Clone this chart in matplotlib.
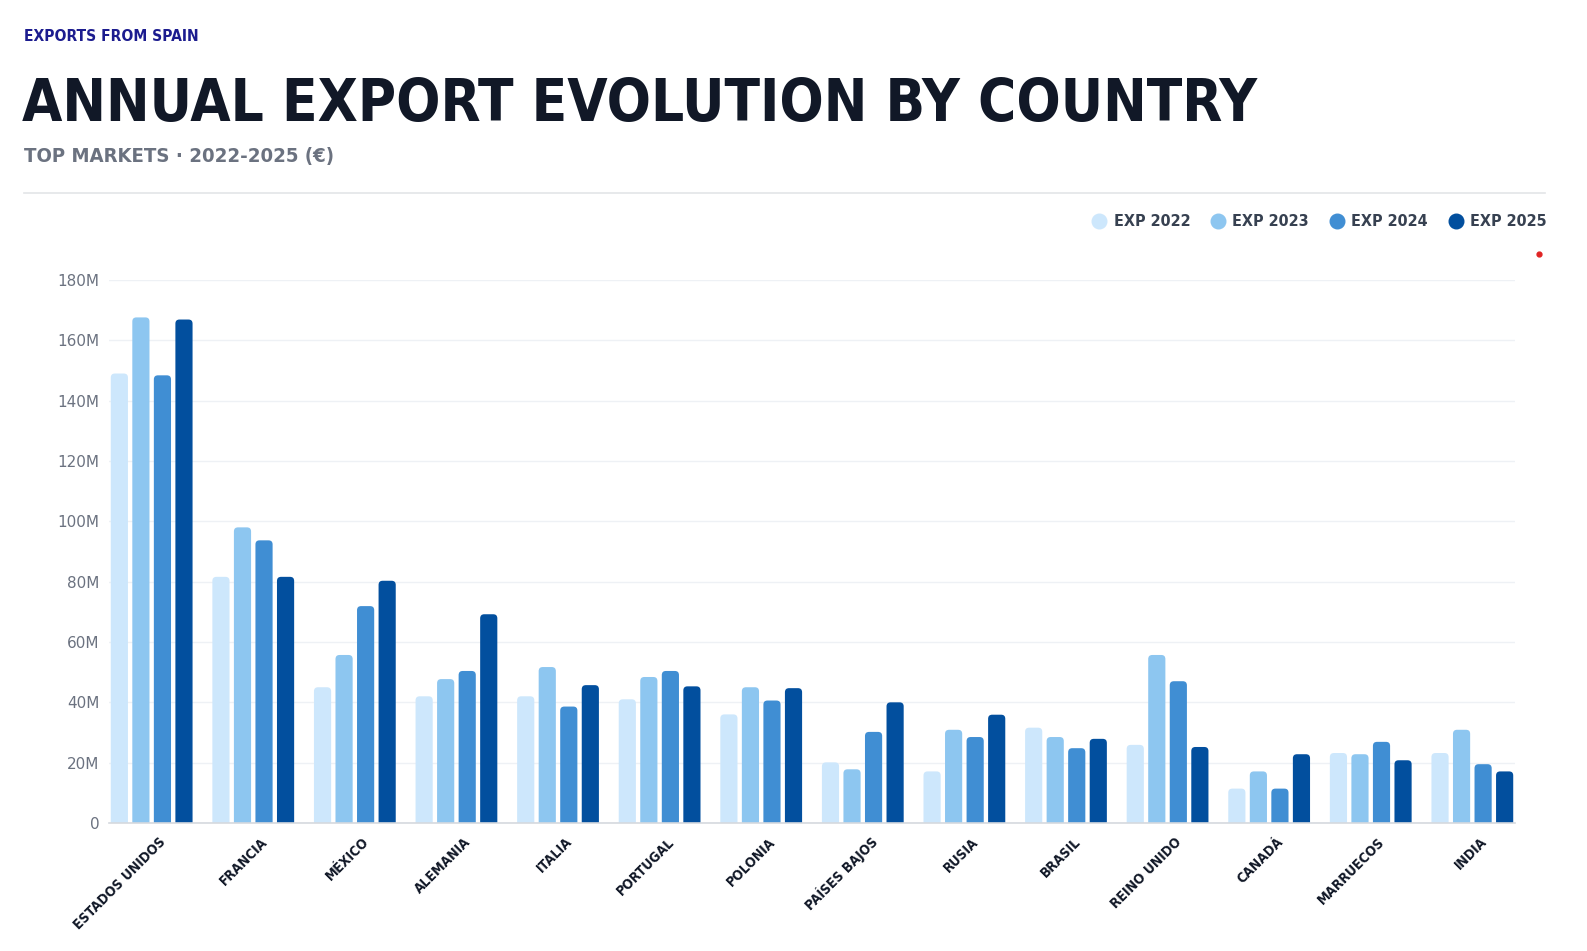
import matplotlib
matplotlib.use("Agg")
import matplotlib.pyplot as plt
import numpy as np
from matplotlib.patches import FancyBboxPatch
from matplotlib.lines import Line2D

countries = ["ESTADOS UNIDOS", "FRANCIA", "MÉXICO", "ALEMANIA", "ITALIA", "PORTUGAL",
             "POLONIA", "PAÍSES BAJOS", "RUSIA", "BRASIL", "REINO UNIDO", "CANADÁ",
             "MARRUECOS", "INDIA"]
series_names = ["EXP 2022", "EXP 2023", "EXP 2024", "EXP 2025"]

# values in millions of euros
exp_2022 = [149.0, 81.6, 45.0, 42.0, 42.0, 41.0, 36.0, 20.1, 17.1, 31.6, 25.9, 11.4, 23.2, 23.2]
exp_2023 = [167.6, 98.0, 55.7, 47.7, 51.7, 48.4, 45.0, 17.8, 30.9, 28.5, 55.7, 17.1, 22.8, 30.9]
exp_2024 = [148.4, 93.7, 71.9, 50.4, 38.6, 50.4, 40.6, 30.2, 28.5, 24.8, 47.0, 11.4, 26.9, 19.5]
exp_2025 = [166.9, 81.6, 80.3, 69.2, 45.7, 45.3, 44.7, 40.0, 35.9, 27.9, 25.2, 22.8, 20.8, 17.1]

y_ticks = [0, 20, 40, 60, 80, 100, 120, 140, 160, 180]
y_tick_labels = ["0", "20M", "40M", "60M", "80M", "100M", "120M", "140M", "160M", "180M"]

colors = ["#cde7fc", "#8dc6f0", "#408ed3", "#024f9e"]
FONT = "DejaVu Sans"
COND = "condensed"

W, H = 1587, 951
fig = plt.figure(figsize=(W / 100, H / 100), dpi=100)
fig.patch.set_facecolor("white")

ax = fig.add_axes([109 / W, 1 - 823 / H, (1515 - 109) / W, (823 - 280) / H])

x = np.arange(len(countries))
step = 0.212
bw = 0.169
all_series = [exp_2022, exp_2023, exp_2024, exp_2025]

ax.set_xlim(-0.42, len(countries) - 1 + 0.42)
ax.set_ylim(0, 180)

# aspect between y-units and x-units in pixels, for round corners
ax_w_px = (1515 - 109)
ax_h_px = (823 - 280)
x_per_px = (len(countries) - 1 + 0.84) / ax_w_px
y_per_px = 180 / ax_h_px
aspect = y_per_px / x_per_px
r = 0.04

for i, vals in enumerate(all_series):
    bars = ax.bar(x + (i - 1.5) * step, vals, width=bw, color=colors[i], zorder=3)
    for b in bars:
        bx, bwid, bh = b.get_x(), b.get_width(), b.get_height()
        b.set_visible(False)
        # extend below zero so the bottom corners get clipped away by the axes
        drop = 5.0
        ax.add_patch(FancyBboxPatch((bx, -drop), bwid, bh + drop,
                                    boxstyle="round,pad=0,rounding_size=%f" % r,
                                    mutation_aspect=aspect, linewidth=0,
                                    facecolor=colors[i], zorder=3))

# grid & spines
ax.set_yticks(y_ticks)
ax.set_yticklabels(y_tick_labels, fontsize=11, color="#6b7280", family=FONT)
ax.yaxis.grid(True, color="#eef1f5", linewidth=1, zorder=0)
ax.set_axisbelow(True)
for s in ["top", "right", "left"]:
    ax.spines[s].set_visible(False)
ax.spines["bottom"].set_color("#d5d9de")
ax.spines["bottom"].set_linewidth(1.2)
ax.spines["bottom"].set_zorder(4)
ax.tick_params(axis="y", length=0, pad=7)
ax.tick_params(axis="x", length=0, pad=12)

ax.set_xticks(x + 0.12)
ax.set_xticklabels(countries, rotation=45, ha="right", va="center",
                   rotation_mode="anchor", fontsize=10, fontweight="bold",
                   color="#111827", family=FONT, fontstretch=COND)

# header texts
fig.text(24 / W, 1 - 41 / H, "EXPORTS FROM SPAIN", fontsize=11.2, fontweight="bold",
         color="#1c1c8f", family=FONT, fontstretch=COND, va="baseline")
fig.text(22 / W, 1 - 121 / H, "ANNUAL EXPORT EVOLUTION BY COUNTRY", fontsize=41.8,
         fontweight="bold", color="#111827", family=FONT, fontstretch=COND,
         va="baseline")
fig.text(24 / W, 1 - 162 / H, "TOP MARKETS · 2022-2025 (€)", fontsize=14.6,
         fontweight="bold", color="#6b7280", family=FONT, fontstretch=COND,
         va="baseline")
fig.add_artist(Line2D([24 / W, 1545 / W], [1 - 193 / H, 1 - 193 / H],
                      color="#e3e5e8", linewidth=1.2))

handles = [Line2D([], [], marker="o", linestyle="none", markersize=10.5,
                  markerfacecolor=c, markeredgecolor=c) for c in colors]
fig.legend(handles, series_names, loc="center right",
           bbox_to_anchor=(1547 / W, 1 - 222 / H), ncol=4, frameon=False,
           handletextpad=0.43, columnspacing=1.22, borderaxespad=0, borderpad=0,
           prop={"family": FONT, "weight": "bold", "size": 11.5, "stretch": COND},
           labelcolor="#374151", handlelength=1.0)

# small red marker in the corner
fig.add_artist(Line2D([1539 / W], [1 - 254 / H], marker="o", markersize=3.5,
                      color="#e02424", linestyle="none"))

fig.savefig("out.png", dpi=100, facecolor="white")
